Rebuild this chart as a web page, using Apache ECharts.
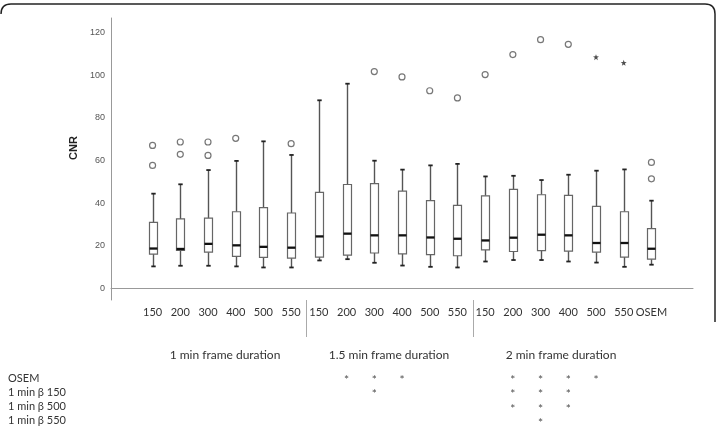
<!DOCTYPE html>
<html>
<head>
<meta charset="utf-8">
<script src="https://cdn.jsdelivr.net/npm/echarts@6/dist/echarts.min.js"></script>
<style>html,body{margin:0;padding:0;background:#fff;}#c{width:717px;height:430px;}</style>
</head>
<body>
<div id="c"></div>
<script>
// ---- data ----
const categories = ['150','200','300','400','500','550','150','200','300','400','500','550','150','200','300','400','500','550','OSEM'];
const whiskerLow  = [10.2,10.5,10.5,10.2,9.7,9.7, 13.0,13.6,11.9,10.6,10.0,9.7, 12.5,13.2,13.2,12.5,12.0,10.0, 11.0];
const q1          = [16.0,17.7,16.9,14.9,14.4,14.1, 14.6,15.5,16.5,16.1,15.7,15.2, 18.0,17.2,17.6,17.4,16.9,14.6, 13.6];
const median      = [18.6,18.4,20.8,20.1,19.4,19.0, 24.3,25.6,24.8,24.8,23.8,23.2, 22.4,23.7,25.1,24.8,21.2,21.2, 18.5];
const q3          = [30.9,32.5,32.9,35.9,37.8,35.3, 45.0,48.7,49.1,45.6,41.1,38.9, 43.4,46.4,43.9,43.6,38.4,35.9, 28.0];
const whiskerHigh = [44.4,48.8,55.5,59.8,69.0,62.6, 88.3,96.1,59.9,55.7,57.7,58.4, 52.5,52.8,50.8,53.3,55.2,55.8, 41.1];
// outliers: [category index, value]
const outliers = [[0,67.1],[0,57.7],[1,68.7],[1,62.9],[2,68.7],[2,62.4],[3,70.4],[5,67.9],
  [8,101.8],[9,99.3],[10,92.8],[11,89.4],[12,100.4],[13,109.8],[14,116.8],[15,114.6],[18,59.1],[18,51.4]];
const extremes = [[16,108.6],[17,105.9]];
const yTicks = [0,20,40,60,80,100,120];
const groupLabels = ['1 min frame duration','1.5 min frame duration','2 min frame duration'];
const sigRows = ['OSEM','1 min \u03b2 150','1 min \u03b2 500','1 min \u03b2 550'];
// significance marks: [category index, row index]
const sigMarks = [[7,0],[8,0],[9,0],[13,0],[14,0],[15,0],[16,0],
  [8,1],[13,1],[14,1],[15,1],
  [13,2],[14,2],[15,2],
  [14,3]];

// ---- chart ----
const axisCats = [''].concat(categories).concat(['']);
const boxData = categories.map((c,i)=>[i+1, whiskerLow[i], q1[i], median[i], q3[i], whiskerHigh[i]]);

function renderBox(params, api){
  const x = api.value(0);
  const lo = api.coord([x, api.value(1)]);
  const b1 = api.coord([x, api.value(2)]);
  const md = api.coord([x, api.value(3)]);
  const b3 = api.coord([x, api.value(4)]);
  const hi = api.coord([x, api.value(5)]);
  const cx = Math.round(lo[0]) + 0.5, hw = 4, cw = 2.2;
  return {type:'group', children:[
    {type:'line', shape:{x1:cx,y1:hi[1],x2:cx,y2:b3[1]}, style:{stroke:'#555',lineWidth:1.4}},
    {type:'line', shape:{x1:cx,y1:b1[1],x2:cx,y2:lo[1]}, style:{stroke:'#555',lineWidth:1.4}},
    {type:'line', shape:{x1:cx-cw,y1:hi[1],x2:cx+cw,y2:hi[1]}, style:{stroke:'#222',lineWidth:1.8}},
    {type:'line', shape:{x1:cx-cw,y1:lo[1],x2:cx+cw,y2:lo[1]}, style:{stroke:'#222',lineWidth:1.8}},
    {type:'rect', shape:{x:cx-hw,y:b3[1],width:2*hw,height:b1[1]-b3[1]}, style:{fill:'#fff',stroke:'#666',lineWidth:1.2}},
    {type:'line', shape:{x1:cx-hw,y1:md[1],x2:cx+hw,y2:md[1]}, style:{stroke:'#111',lineWidth:2.3}}
  ]};
}

const starPath = 'path://M0,-10L2.35,-3.24L9.51,-3.09L3.8,1.24L5.88,8.09L0,4L-5.88,8.09L-3.8,1.24L-9.51,-3.09L-2.35,-3.24Z';
const font = 'Lato, "Open Sans", sans-serif';
const border = {stroke:'#222',lineWidth:1.5,fill:null};

const chart = echarts.init(document.getElementById('c'), null, {renderer:'canvas'});
chart.setOption({
  animation:false,
  backgroundColor:'#fff',
  grid:[{left:111,right:24,top:18,bottom:130},{left:111,right:24,top:371,height:57}],
  xAxis:[
    {type:'category',gridIndex:0,data:axisCats,
     axisLine:{lineStyle:{color:'#999',width:1}},axisTick:{show:false},
     axisLabel:{interval:0,margin:7,fontSize:11,color:'#333',fontFamily:font}},
    {type:'category',gridIndex:1,data:axisCats,show:false}
  ],
  yAxis:[
    {type:'value',gridIndex:0,min:-5.6,max:127,
     axisLine:{show:true,lineStyle:{color:'#999',width:1}},axisTick:{show:false},splitLine:{show:false},
     axisLabel:{customValues:yTicks,fontSize:9,color:'#555',margin:6,fontFamily:'"Liberation Sans", Arial, sans-serif'}},
    {type:'category',gridIndex:1,data:sigRows,inverse:true,
     axisLine:{show:false},axisTick:{show:false},splitLine:{show:false},
     axisLabel:{interval:0,hideOverlap:false,margin:103,align:'left',fontSize:11,color:'#333',fontFamily:font}}
  ],
  series:[
    {type:'custom',xAxisIndex:0,yAxisIndex:0,data:boxData,encode:{x:0,y:[1,2,3,4,5]},renderItem:renderBox,z:2},
    {type:'scatter',xAxisIndex:0,yAxisIndex:0,data:outliers.map(o=>[o[0]+1,o[1]]),symbol:'circle',symbolSize:6,
     itemStyle:{color:'#fff',borderColor:'#555',borderWidth:1.2},z:3},
    {type:'scatter',xAxisIndex:0,yAxisIndex:0,data:extremes.map(o=>[o[0]+1,o[1]]),symbol:starPath,symbolSize:6,
     itemStyle:{color:'#222'},z:3},
    {type:'scatter',xAxisIndex:1,yAxisIndex:1,data:sigMarks.map(m=>[m[0]+1,m[1]]),symbolSize:1,
     itemStyle:{color:'rgba(0,0,0,0)'},
     label:{show:true,formatter:'*',position:'inside',fontSize:12,color:'#222',offset:[0,2],fontFamily:font}}
  ],
  graphic:[
    {type:'line',shape:{x1:11,y1:4,x2:705,y2:4},style:border,silent:true},
    {type:'bezierCurve',shape:{x1:1,y1:14,cpx1:1,cpy1:4,x2:11,y2:4},style:border,silent:true},
    {type:'bezierCurve',shape:{x1:705,y1:4,cpx1:715,cpy1:4,x2:715,y2:14},style:border,silent:true},
    {type:'line',shape:{x1:715,y1:14,x2:715,y2:322},style:border,silent:true},
    {type:'text',x:74,y:148,rotation:Math.PI/2,style:{text:'CNR',font:'bold 11px "Liberation Sans", Arial, sans-serif',fill:'#222',textAlign:'center',textVerticalAlign:'middle'}},
    {type:'line',shape:{x1:306.5,y1:300,x2:306.5,y2:337},style:{stroke:'#aaa',lineWidth:1}},
    {type:'line',shape:{x1:473.5,y1:300,x2:473.5,y2:337},style:{stroke:'#aaa',lineWidth:1}},
    {type:'text',x:225,y:355,style:{text:groupLabels[0],font:'12px '+font,fill:'#333',textAlign:'center',textVerticalAlign:'middle'}},
    {type:'text',x:389,y:355,style:{text:groupLabels[1],font:'12px '+font,fill:'#333',textAlign:'center',textVerticalAlign:'middle'}},
    {type:'text',x:561,y:355,style:{text:groupLabels[2],font:'12px '+font,fill:'#333',textAlign:'center',textVerticalAlign:'middle'}}
  ]
});
</script>
</body>
</html>
